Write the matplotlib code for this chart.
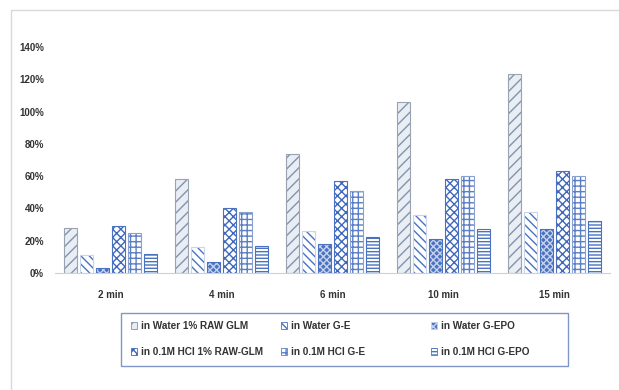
import matplotlib.pyplot as plt
import numpy as np

plt.rcParams['font.family'] = ['Liberation Sans', 'DejaVu Sans']
plt.rcParams['hatch.linewidth'] = 1.0

categories = ['2 min', '4 min', '6 min', '10 min', '15 min']
series_names = ['in Water 1% RAW GLM', 'in Water G-E', 'in Water G-EPO',
                'in 0.1M HCl 1% RAW-GLM', 'in 0.1M HCl G-E', 'in 0.1M HCl G-EPO']
water_glm = [0.28, 0.58, 0.74, 1.06, 1.23]
water_ge = [0.11, 0.16, 0.26, 0.36, 0.38]
water_epo = [0.03, 0.07, 0.18, 0.21, 0.27]
hcl_glm = [0.29, 0.40, 0.57, 0.58, 0.63]
hcl_ge = [0.25, 0.38, 0.51, 0.60, 0.60]
hcl_epo = [0.12, 0.17, 0.22, 0.27, 0.32]
yticks = [0, 0.2, 0.4, 0.6, 0.8, 1.0, 1.2, 1.4]
ytick_labels = ['0%', '20%', '40%', '60%', '80%', '100%', '120%', '140%']

series = [water_glm, water_ge, water_epo, hcl_glm, hcl_ge, hcl_epo]
# (face, hatch colour, hatch, outline)
styles = [
    ('#e9edf4', '#8393ad', '///', '#9aa3b0'),
    ('white', '#4a72c0', '\\\\\\\\', '#c9d5ec'),
    ('#4a72c0', '#c5d2ec', 'xxxxx', '#4a72c0'),
    ('white', '#3f68bc', 'xxxx', '#4a72c0'),
    ('white', '#5b7fc4', '+++', '#8aa1cf'),
    ('white', '#4a72c0', '-----', '#4a72c0'),
]

fig = plt.figure(figsize=(6.19, 3.90), dpi=100)
fig.patches.append(plt.Rectangle((11 / 619, -0.1), 1.2, 1 - 10 / 390 + 0.1,
                                 transform=fig.transFigure, fill=False,
                                 edgecolor='#d9d9d9', linewidth=1.0))
ax = fig.add_axes([55 / 619, 1 - 273 / 390, 555 / 619, (273 - 47) / 390])

x = np.arange(len(categories))
pitch = 0.144
width = 0.117
handles = []
for i, (vals, (face, hcol, hatch, edge)) in enumerate(zip(series, styles)):
    pos = x + (i - 2.5) * pitch
    ax.bar(pos, vals, width, color=face, edgecolor=hcol, hatch=hatch, linewidth=0)
    ax.bar(pos, vals, width, fill=False, edgecolor=edge, linewidth=0.8)
    h = plt.Rectangle((0, 0), 1, 1, facecolor=face, edgecolor=hcol, hatch=hatch,
                      linewidth=0.6)
    handles.append(h)

ax.set_xlim(-0.5, 4.5)
ax.set_ylim(0, 1.4)
ax.set_yticks(yticks)
ax.set_yticklabels(ytick_labels)
ax.set_xticks(x)
ax.set_xticklabels(categories)
for s in ['top', 'right', 'left']:
    ax.spines[s].set_visible(False)
ax.spines['bottom'].set_color('#d0d0d0')
ax.tick_params(length=0, labelsize=7, colors='#333333')
ax.tick_params(axis='y', pad=8)
ax.tick_params(axis='x', pad=12)
for t in ax.get_xticklabels() + ax.get_yticklabels():
    t.set_fontweight('bold')

# legend box like excel: equal width columns, one small legend per column
fig.patches.append(plt.Rectangle((121 / 619, 1 - 366 / 390), 447 / 619, 53 / 390,
                                 transform=fig.transFigure, fill=False,
                                 edgecolor='#7f96c6', linewidth=1.0))
col_x = [131, 281, 431]
for c in range(3):
    leg = fig.legend([handles[c], handles[c + 3]],
                     [series_names[c], series_names[c + 3]],
                     loc='center left',
                     bbox_to_anchor=(col_x[c] / 619, 1 - 339 / 390),
                     frameon=False, prop={'size': 7.2, 'weight': 'bold'},
                     handlelength=0.6, handleheight=0.6, handletextpad=0.4,
                     borderpad=0, borderaxespad=0, labelspacing=1.6)
    for t in leg.get_texts():
        t.set_color('#333333')

fig.savefig('out.png', dpi=100)
